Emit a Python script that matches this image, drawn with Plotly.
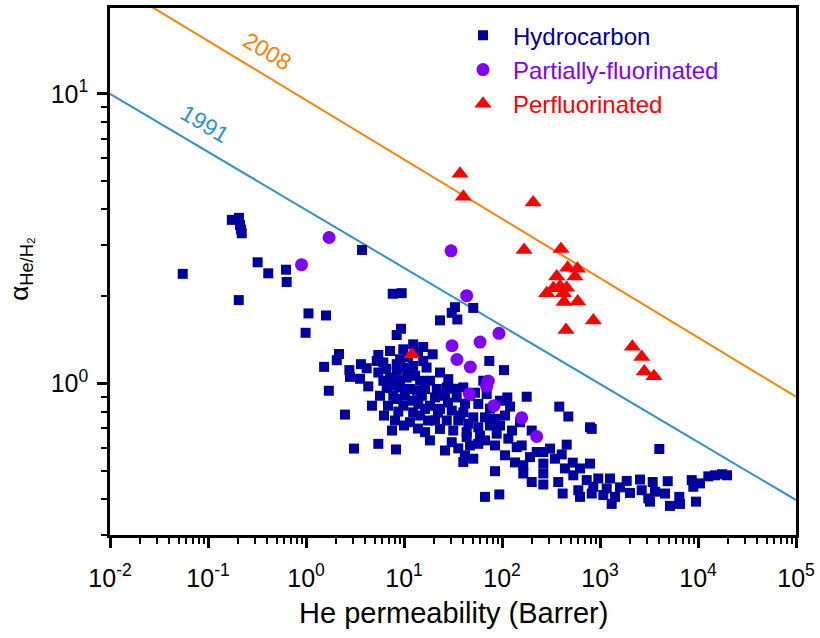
import plotly.graph_objects as go

# ---------------- data (He permeability in Barrer, He/H2 selectivity) ----------------
hc_perm = [
    0.175, 0.207, 0.212, 0.217, 0.221, 0.0552, 0.321, 0.412, 0.625, 0.635,
    0.206, 1.06, 1.60, 0.99, 1.53, 2.06, 2.17, 1.71, 3.73,
    7.67, 9.47, 9.32, 8.42, 12.4, 15.7, 9.84, 2.77, 2.81, 3.64,
    4.16, 5.47, 5.27, 6.15, 5.47, 8.42, 9.10, 8.42, 9.84, 12.4,
    12.95, 15.7, 17.0, 7.20, 6.15, 9.10, 10.66, 4.32, 6.66, 9.10,
    11.5, 13.5, 7.78, 8.42, 15.2, 14.0, 9.84, 8.75, 12.4, 11.5,
    16.4, 2.50, 6.25, 16.4, 3.09, 5.47, 8.29, 17.6,
    33.1, 30.7, 35.0, 23.3, 50.9, 19.6, 74.2, 104.8, 23.3, 28.3,
    64.4, 16.4, 21.6, 27.3, 40.3, 20.7, 26.2, 34.5, 57.3, 69.8,
    95.4, 113.3, 120.7, 178.7, 23.3, 30.7, 40.3, 50.9, 67.1, 84.8,
    20.7, 27.3, 35.8, 45.3, 57.3, 75.4, 23.3, 31.8, 43.6, 59.6,
    88.3, 116, 152.7, 158.9, 201, 30.7, 43.6, 57.3, 141.3, 226,
    193, 165, 41.9, 50.9, 40.3, 84.8, 165, 201, 67.1, 93.8,
    384, 475, 791, 823, 4030, 457, 309, 264, 407, 347,
    264, 527, 791, 439, 625, 534, 264, 375, 264, 732,
    961, 1265, 1873, 2560, 3450, 4910, 8626, 12740, 14910, 601,
    854, 1171, 1600, 2024, 2665, 3640, 4605, 8953, 10480, 416,
    625, 823, 1081, 1423, 3111, 6445, 1316, 3237, 5180, 6551,
    9541, 17580, 19770,
    7.20, 10.98, 13.9, 6.55, 10.98, 14.6, 7.54, 10.2, 12.1, 6.87,
    14.6, 10.0, 13.9, 8.09, 18.4, 33.1, 47.2, 41.9, 75.4, 18.4,
    28.1, 37.3, 95.4, 67.1, 47.2, 84.8, 107.3, 126.5, 135.7, 26.2,
    35.8, 5.69, 4.71, 7.54, 18.4, 22.2, 53.0, 107.3, 3.56,
]
hc_sel = [
    3.67, 3.73, 3.52, 3.40, 3.30, 2.39, 2.62, 2.40, 2.47, 2.24,
    1.94, 1.745, 1.717, 1.496, 1.141, 1.203, 1.264, 0.944, 2.89,
    2.04, 2.05, 1.545, 1.47, 1.365, 1.336, 1.312, 1.112, 1.054, 1.166,
    1.129, 1.254, 1.196, 1.181, 1.091, 1.166, 1.212, 1.105, 1.135, 1.150,
    1.063, 1.196, 1.135, 1.048, 1.022, 1.022, 1.048, 0.977, 0.964, 0.969,
    0.957, 0.944, 0.907, 0.884, 0.907, 0.850, 0.838, 0.800, 0.795, 0.735,
    0.817, 0.781, 0.775, 0.679, 0.596, 0.619, 0.592, 0.745,
    1.834, 1.753, 1.663, 1.651, 1.823, 1.261, 1.196, 1.112, 1.091, 1.035,
    1.022, 0.957, 0.957, 0.969, 0.969, 0.895, 0.907, 0.895, 0.850, 0.920,
    0.872, 0.895, 0.832, 0.900, 0.817, 0.806, 0.795, 0.764, 0.764, 0.755,
    0.745, 0.745, 0.745, 0.726, 0.706, 0.716, 0.697, 0.688, 0.679, 0.661,
    0.671, 0.645, 0.735, 0.611, 0.688, 0.627, 0.653, 0.619, 0.603, 0.580,
    0.557, 0.522, 0.565, 0.550, 0.536, 0.498, 0.489, 0.457, 0.406, 0.414,
    0.832, 0.769, 0.706, 0.697, 0.594, 0.615, 0.596, 0.580, 0.569, 0.550,
    0.529, 0.533, 0.529, 0.509, 0.509, 0.482, 0.489, 0.457, 0.448, 0.464,
    0.470, 0.470, 0.461, 0.466, 0.457, 0.460, 0.464, 0.478, 0.482, 0.428,
    0.440, 0.434, 0.438, 0.419, 0.428, 0.423, 0.417, 0.440, 0.452, 0.417,
    0.406, 0.417, 0.412, 0.406, 0.401, 0.406, 0.384, 0.391, 0.378, 0.384,
    0.391, 0.486, 0.482,
    1.295, 1.235, 1.274, 1.123, 1.105, 1.022, 0.982, 0.907, 0.872, 0.838,
    0.775, 0.716, 0.699, 0.745, 1.022, 0.959, 0.907, 0.852, 0.819, 0.838,
    0.859, 0.775, 0.716, 0.636, 0.611, 0.611, 0.565, 0.688, 0.534, 0.587,
    0.597, 0.907, 0.838, 0.688, 0.636, 0.793, 0.929, 0.775, 1.038,
]

pf_perm = [1.72, 0.90, 30.2, 43.6, 93.1, 59.7, 30.9, 34.7, 47.5, 72.5,
           69.8, 46.4, 82.8, 159, 226]
pf_sel = [3.19, 2.57, 2.87, 2.01, 1.49, 1.39, 1.35, 1.21, 1.14, 1.02,
          0.978, 0.92, 0.838, 0.761, 0.656]

perf_perm = [37.3, 40.3, 208, 168, 400, 468, 587, 362, 556, 286,
             334, 391, 457, 423, 430, 592, 855, 450, 2138, 2666,
             2831, 3556, 12.0]
perf_sel = [5.30, 4.41, 4.21, 2.89, 2.91, 2.51, 2.49, 2.34, 2.34, 2.05,
            2.13, 2.16, 2.14, 2.05, 1.91, 1.92, 1.65, 1.53, 1.34, 1.235,
            1.10, 1.06, 1.26]

bound_perm = [0.01, 1e5]
bound_1991 = [10.0, 0.396]
bound_2008 = [24.4, 0.90]

x_major = [1e-2, 1e-1, 1e0, 1e1, 1e2, 1e3, 1e4, 1e5]
x_labels = ["10<sup>-2</sup>", "10<sup>-1</sup>", "10<sup>0</sup>", "10<sup>1</sup>",
            "10<sup>2</sup>", "10<sup>3</sup>", "10<sup>4</sup>", "10<sup>5</sup>"]
y_major = [1, 10]
y_labels = ["10<sup>0</sup>", "10<sup>1</sup>"]

# ---------------- styling ----------------
C_HC = "#0000A0"
C_PF = "#8000FF"
C_PERF = "#FF0000"
C_1991 = "#3192C8"
C_2008 = "#FF8000"
FONT = "Liberation Sans, Arial, sans-serif"

x_minor = [m * 10.0 ** d for d in range(-2, 5) for m in range(2, 10)]
y_minor = [m * 10.0 ** d for d in (-1, 0, 1) for m in range(2, 10)]
y_minor = [v for v in y_minor if 0.3 <= v <= 20]

fig = go.Figure()
fig.add_trace(go.Scatter(x=bound_perm, y=bound_1991, mode="lines",
                         line=dict(color=C_1991, width=2), showlegend=False, hoverinfo="skip"))
fig.add_trace(go.Scatter(x=bound_perm, y=bound_2008, mode="lines",
                         line=dict(color=C_2008, width=2), showlegend=False, hoverinfo="skip"))
fig.add_trace(go.Scatter(x=hc_perm, y=hc_sel, mode="markers",
                         name=f"<span style='color:{C_HC}'>Hydrocarbon</span>",
                         marker=dict(symbol="square", size=10, color=C_HC, line=dict(width=0))))
fig.add_trace(go.Scatter(x=pf_perm, y=pf_sel, mode="markers",
                         name=f"<span style='color:{C_PF}'>Partially-fluorinated</span>",
                         marker=dict(symbol="circle", size=13, color=C_PF, line=dict(width=0))))
fig.add_trace(go.Scatter(x=perf_perm, y=perf_sel, mode="markers",
                         name=f"<span style='color:{C_PERF}'>Perfluorinated</span>",
                         marker=dict(symbol="triangle-up", size=15, color=C_PERF, line=dict(width=0))))

axis_common = dict(type="log", showgrid=False, zeroline=False, showline=True,
                   linecolor="black", linewidth=2.5, mirror=True,
                   ticks="outside", ticklen=10, tickwidth=2.5, tickcolor="black",
                   tickfont=dict(size=25, family=FONT, color="black"))

fig.update_xaxes(range=[-2, 5], tickmode="array", tickvals=x_major, ticktext=x_labels,
                 ticklabelstandoff=9,
                 minor=dict(tickmode="array", tickvals=x_minor, ticks="outside",
                            ticklen=6, tickwidth=2, tickcolor="black", showgrid=False),
                 **axis_common)
fig.update_yaxes(range=[-0.523, 1.296], tickmode="array", tickvals=y_major, ticktext=y_labels,
                 ticklabelstandoff=4,
                 minor=dict(tickmode="array", tickvals=y_minor, ticks="outside",
                            ticklen=6, tickwidth=2, tickcolor="black", showgrid=False),
                 **axis_common)

fig.update_layout(
    width=820, height=638,
    margin=dict(l=110, r=24, t=5, b=103),
    plot_bgcolor="white", paper_bgcolor="white",
    font=dict(family=FONT, color="black"),
    legend=dict(x=0.5, y=0.99, xanchor="left", yanchor="top",
                font=dict(size=24, family=FONT), itemwidth=50,
                bgcolor="rgba(0,0,0,0)", borderwidth=0),
    annotations=[
        dict(text="He permeability (Barrer)", xref="paper", yref="paper",
             x=0.5, y=-0.148, xanchor="center", yanchor="middle",
             showarrow=False, font=dict(size=29, family=FONT)),
        dict(text="α<sub>He/H₂</sub>", xref="paper", yref="paper",
             x=-0.13, y=0.505, xanchor="center", yanchor="middle", textangle=-90,
             showarrow=False, font=dict(size=26, family=FONT)),
        dict(text="1991", x=-1.031, y=0.8946, xref="x", yref="y",
             textangle=31, showarrow=False, font=dict(size=23, color=C_1991, family=FONT)),
        dict(text="2008", x=-0.398, y=1.1486, xref="x", yref="y",
             textangle=31, showarrow=False, font=dict(size=23, color=C_2008, family=FONT)),
    ],
)

fig.write_html("out.html")
